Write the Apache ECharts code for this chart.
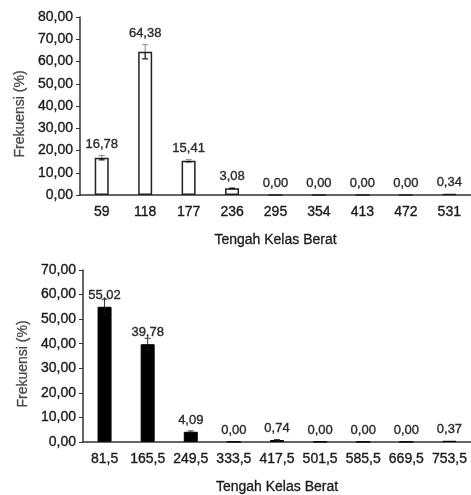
<!DOCTYPE html>
<html>
<head>
<meta charset="utf-8">
<script src="https://cdn.jsdelivr.net/npm/echarts@6/dist/echarts.min.js"></script>
<style>
html,body{margin:0;padding:0;background:#fff;}
#c{width:471px;height:495px;}
</style>
</head>
<body>
<div id="c"></div>
<script>
// Top chart data
var topCategories = ['59','118','177','236','295','354','413','472','531'];
var topValues = [16.78, 64.38, 15.41, 3.08, 0.00, 0.00, 0.00, 0.00, 0.34];
var topErrors = [1.0, 3.2, 0.5, 0.25, 0, 0, 0, 0, 0];
// Bottom chart data
var bottomCategories = ['81,5','165,5','249,5','333,5','417,5','501,5','585,5','669,5','753,5'];
var bottomValues = [55.02, 39.78, 4.09, 0.00, 0.74, 0.00, 0.00, 0.00, 0.37];
var bottomErrors = [3.1, 2.4, 0.35, 0, 0.15, 0, 0, 0, 0];
var yTitle = 'Frekuensi (%)';
var xTitle = 'Tengah Kelas Berat';

var FONT = 'Liberation Sans, Arial, sans-serif';
function fmt(v){ return v.toFixed(2).replace('.', ','); }

function errSeries(idx, values, errors, labelOnErr, capColorTop){
  var data = values.map(function(v,i){ return [i, v, errors[i]]; });
  return {
    type: 'custom',
    xAxisIndex: idx, yAxisIndex: idx,
    z: 5,
    data: data,
    renderItem: function(params, api){
      var i = api.value(0), v = api.value(1), e = api.value(2);
      var pv = api.coord([i, v]);
      var pt = api.coord([i, v + e]);
      var pb = api.coord([i, Math.max(0, v - e)]);
      var x = pv[0];
      var children = [];
      if (e > 0) {
        var cap = 3;
        children.push({type:'line', shape:{x1:x,y1:pv[1],x2:x,y2:pt[1]}, style:{stroke:capColorTop, lineWidth:1}});
        children.push({type:'line', shape:{x1:x-cap,y1:pt[1],x2:x+cap,y2:pt[1]}, style:{stroke:capColorTop, lineWidth:1}});
        children.push({type:'line', shape:{x1:x,y1:pv[1],x2:x,y2:pb[1]}, style:{stroke:'#111', lineWidth:1.2}});
        children.push({type:'line', shape:{x1:x-cap,y1:pb[1],x2:x+cap,y2:pb[1]}, style:{stroke:'#111', lineWidth:1.2}});
      }
      var baseY = labelOnErr ? pt[1] : pv[1];
      children.push({type:'text', style:{text: fmt(v), x: x, y: baseY - 5, align:'center', verticalAlign:'bottom', fontSize: 13, fontFamily: FONT, fill:'#2a2a2a', stroke:'#2a2a2a', lineWidth:0.35}});
      return {type:'group', children: children};
    }
  };
}

function yAxis(idx, max){
  return {
    type:'value', gridIndex: idx, min:0, max:max, interval:10,
    axisLine:{show:true, lineStyle:{color:'#333', width:1.5}},
    axisTick:{show:true, length:4, lineStyle:{color:'#333'}},
    axisLabel:{fontSize:14, fontFamily:FONT, color:'#1a1a1a', textBorderColor:'#1a1a1a', textBorderWidth:0.35, margin:7, formatter: function(v){ return fmt(v); }},
    splitLine:{show:false}
  };
}
function xAxis(idx, cats){
  return {
    type:'category', gridIndex: idx, data: cats,
    name: xTitle, nameLocation:'middle', nameGap: 38,
    nameTextStyle:{fontSize:14, fontFamily:FONT, color:'#1a1a1a', textBorderColor:'#1a1a1a', textBorderWidth:0.3},
    axisLine:{show:true, lineStyle:{color:'#333', width:1.5}},
    axisTick:{show:false},
    axisLabel:{fontSize:14, fontFamily:FONT, color:'#1a1a1a', textBorderColor:'#1a1a1a', textBorderWidth:0.35, margin:10, interval:0}
  };
}
function yTitleText(x, y){
  return {type:'text', x:x, y:y, rotation: Math.PI/2,
    style:{text: yTitle, align:'center', verticalAlign:'middle', fontSize:14, fontFamily:FONT, fill:'#4a4a4a', stroke:'#4a4a4a', lineWidth:0.3}};
}

var chart = echarts.init(document.getElementById('c'), null, {renderer:'canvas'});
chart.setOption({
  backgroundColor:'#fff',
  animation:false,
  grid:[
    {left:80, top:17, width:396, height:178},
    {left:83, top:270, width:390, height:173}
  ],
  graphic:[yTitleText(20, 114), yTitleText(23, 364)],
  xAxis:[xAxis(0, topCategories), xAxis(1, bottomCategories)],
  yAxis:[yAxis(0, 80), yAxis(1, 70)],
  series:[
    {type:'bar', xAxisIndex:0, yAxisIndex:0, data: topValues, barWidth:14,
     itemStyle:{color:'#fff', borderColor:'#222', borderWidth:1.5}},
    errSeries(0, topValues, topErrors, true, '#888'),
    {type:'bar', xAxisIndex:1, yAxisIndex:1, data: bottomValues, barWidth:14,
     itemStyle:{color:'#000', borderColor:'#000', borderWidth:1}},
    errSeries(1, bottomValues, bottomErrors, false, '#333')
  ]
});
</script>
</body>
</html>
